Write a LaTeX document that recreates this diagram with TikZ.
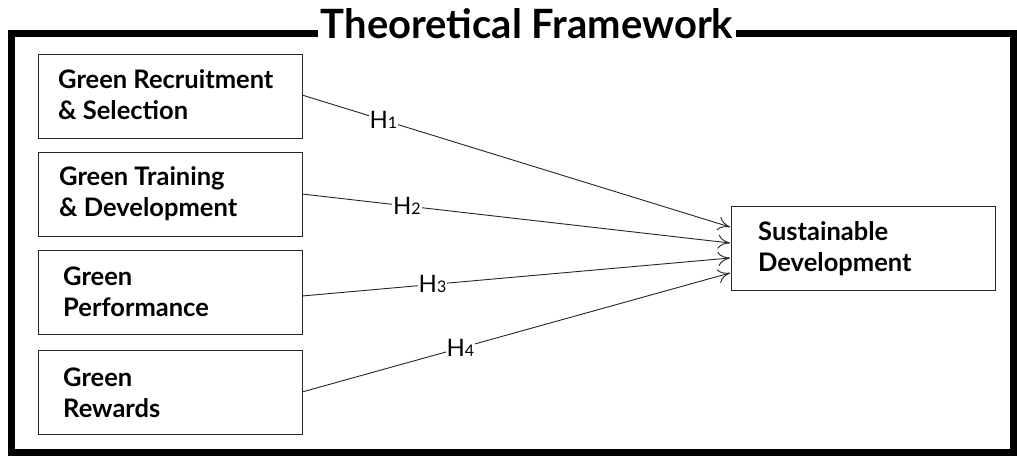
\documentclass[tikz,border=0pt]{standalone}
\usepackage{fontspec}
\setmainfont{Lato}
\usetikzlibrary{arrows.meta}
\begin{document}
\begin{tikzpicture}[x=1pt,y=-1pt,
  box/.style={draw=black!85, line width=1.2pt, minimum width=264pt, minimum height=84pt, anchor=north west, inner sep=0pt},
  lbl/.style={anchor=west, font=\fontsize{25.5}{31}\selectfont\bfseries, align=left, text=black, inner sep=0pt},
  hyp/.style={draw=black!85, line width=0.9pt, -{To[length=12pt,width=14pt]}},
  hlab/.style={fill=white, inner sep=1pt, font=\fontsize{24}{24}\selectfont}]
\useasboundingbox (0,0) rectangle (1017,459);
\fill[white] (0,0) rectangle (1017,459);
% outer frame
\draw[line width=7pt] (11.5,33) rectangle (1013.5,452.5);
\node[fill=white, inner xsep=3pt, inner ysep=0pt] (title) at (527,24) {\resizebox{412pt}{30pt}{\bfseries Theoretical Framework}};
% boxes
\node[box] (b1) at (38,54) {};
\node[box] (b2) at (38,152) {};
\node[box] (b3) at (38,250) {};
\node[box] (b4) at (38,350) {};
\node[box] (sd) at (731,206) {};
\node[lbl] (t1) at (58,95) {Green Recruitment\\\& Selection};
\node[lbl] (t2) at (59,194) {Green Training\\\& Development};
\node[lbl] (t3) at (63,292) {Green\\Performance};
\node[lbl] (t4) at (63,393) {Green\\Rewards};
\node[lbl] (t5) at (758,249) {Sustainable\\Development};
% arrow end coordinates
\coordinate (s1) at (302,95);
\coordinate (s2) at (302,194);
\coordinate (s3) at (302,296);
\coordinate (s4) at (302,392);
\coordinate (e1) at (730,227);
\coordinate (e2) at (730,243);
\coordinate (e3) at (730,258);
\coordinate (e4) at (730,273);
\draw[hyp] (s1) -- node[hlab, pos=0.19] (h1) {H{\fontsize{16}{16}\selectfont 1}} (e1);
\draw[hyp] (s2) -- node[hlab, pos=0.245] (h2) {H{\fontsize{16}{16}\selectfont 2}} (e2);
\draw[hyp] (s3) -- node[hlab, pos=0.305] (h3) {H{\fontsize{16}{16}\selectfont 3}} (e3);
\draw[hyp] (s4) -- node[hlab, pos=0.37] (h4) {H{\fontsize{16}{16}\selectfont 4}} (e4);
\end{tikzpicture}
\end{document}
